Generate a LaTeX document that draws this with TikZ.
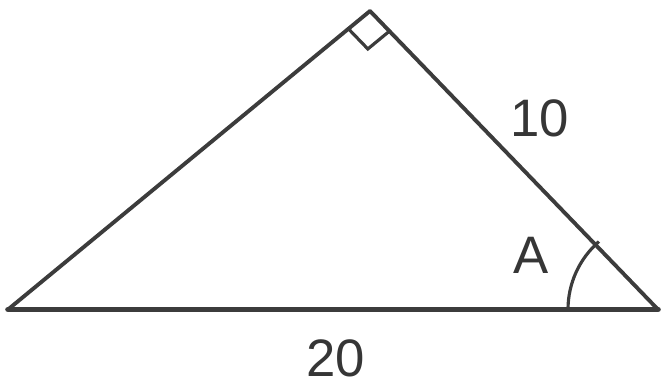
\documentclass[tikz,border=0pt]{standalone}
\usepackage{fontspec}
\setmainfont{Liberation Sans}
\usetikzlibrary{calc, angles}
\definecolor{ink}{RGB}{60,60,60}

\begin{document}
\begin{tikzpicture}[
    side/.style={draw=ink, line width=2.2pt, line cap=round},
    base/.style={draw=ink, line width=3.2pt, line cap=round},
    anglemark/.style={draw=ink, line width=1.8pt},
    measure/.style={font=\fontsize{30}{36}\selectfont, text=ink!90!black, inner sep=0pt},
]
\useasboundingbox (0, 0) rectangle (13.22, 7.74);

% ─── Vertices ──────────────────────────────────────────────────────
\coordinate (B) at (0.16, 1.55);
\coordinate (C) at (13.16, 1.55);
\coordinate (V) at (7.40, 7.52);

% ─── Sides ────────────────────────────────────────────────────────
\draw[side] (B) -- (V);
\draw[side] (V) -- (C);
\draw[base] (B) -- (C);

% ─── Right angle box at the top ───────────────────────────────────
\coordinate (r1) at ($(V)!0.56cm!(B)$);
\coordinate (r2) at ($(V)!0.56cm!(C)$);
\draw[anglemark] (r1) -- ($(r1)+(r2)-(V)$) -- (r2);

% ─── Angle A at the bottom right ──────────────────────────────────
\draw[anglemark] ($(C)+(180:1.8)$) arc[start angle=180, end angle=131, radius=1.8];

% ─── Labels ──────────────────────────────────────────────────────
\node[measure] (lhyp) at (10.80, 5.38) {10};
\node[measure] (lbase) at (6.72, 0.58) {20};
\node[measure] (lA) at (10.62, 2.64) {A};

\end{tikzpicture}
\end{document}
